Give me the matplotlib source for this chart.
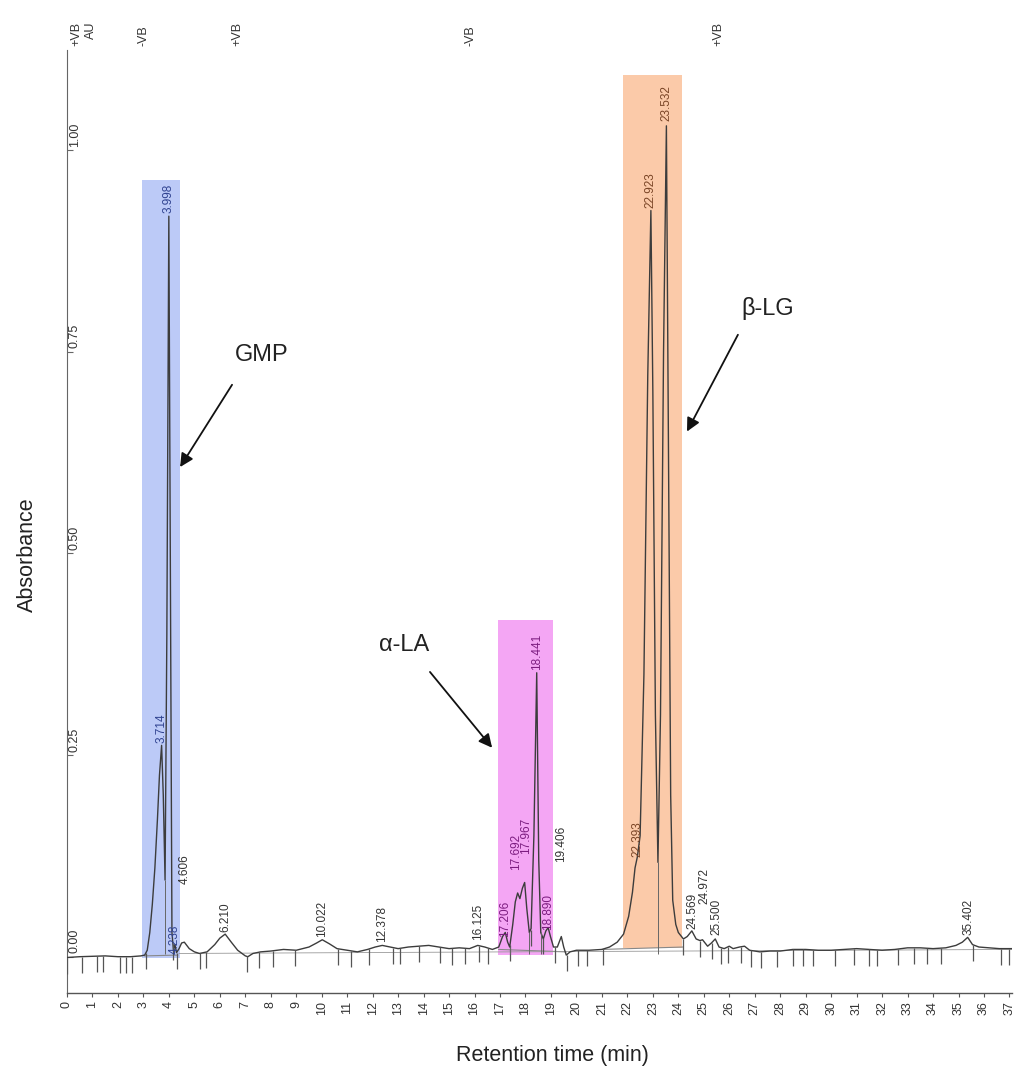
import matplotlib
matplotlib.use('Agg')
import numpy as np
import matplotlib.pyplot as plt
import matplotlib.transforms as mtransforms
from matplotlib.patches import Rectangle

plt.rcParams['font.family'] = ['Liberation Sans', 'DejaVu Sans']

# chromatogram trace (min, AU)
trace_time = [0.0, 0.5, 1.0, 1.5, 2.0, 2.5, 2.9, 3.05, 3.15, 3.25, 3.35, 3.45, 3.55, 3.63,
              3.714, 3.78, 3.85, 3.92, 3.998, 4.06, 4.12, 4.18, 4.238, 4.3, 4.4, 4.5, 4.606,
              4.8, 5.0, 5.2, 5.5, 5.8, 6.0, 6.21, 6.45, 6.7, 7.0, 7.1, 7.3, 7.6, 8.0, 8.5, 9.0,
              9.5, 9.8, 10.022, 10.3, 10.6, 11.0, 11.4, 11.8, 12.1, 12.378, 12.7, 13.0, 13.4,
              13.8, 14.2, 14.6, 15.0, 15.4, 15.8, 16.125, 16.4, 16.7, 16.95, 17.1, 17.206, 17.3,
              17.38, 17.5, 17.6, 17.692, 17.78, 17.88, 17.967, 18.05, 18.15, 18.22, 18.33,
              18.441, 18.52, 18.6, 18.7, 18.8, 18.89, 18.98, 19.1, 19.25, 19.406, 19.5, 19.6,
              19.75, 20.0, 20.5, 21.0, 21.3, 21.6, 21.85, 22.05, 22.2, 22.3, 22.393, 22.5,
              22.65, 22.8, 22.923, 23.0, 23.1, 23.2, 23.3, 23.42, 23.532, 23.62, 23.7, 23.78,
              23.9, 24.0, 24.2, 24.35, 24.53, 24.7, 24.85, 24.95, 25.15, 25.3, 25.45, 25.6,
              25.8, 26.0, 26.15, 26.4, 26.6, 26.8, 27.2, 27.6, 28.0, 28.5, 29.0, 29.5, 30.0,
              30.5, 31.0, 31.5, 32.0, 32.5, 33.0, 33.5, 34.0, 34.5, 34.9, 35.15, 35.36, 35.55,
              35.8, 36.2, 36.6, 37.0, 37.1]
trace_abs = [-0.001, 0.0, 0.0005, 0.001, 0.0, 0.0, 0.001, 0.002, 0.008, 0.03, 0.065, 0.11, 0.17, 0.225,
             0.262, 0.2, 0.095, 0.4, 0.918, 0.45, 0.03, 0.008, 0.015, 0.005, 0.01, 0.017, 0.018,
             0.01, 0.006, 0.004, 0.006, 0.015, 0.023, 0.028, 0.018, 0.008, 0.001, 0.0, 0.004, 0.006, 0.007, 0.009, 0.008,
             0.012, 0.017, 0.021, 0.016, 0.01, 0.008, 0.006, 0.009, 0.012, 0.014, 0.012, 0.01, 0.012,
             0.013, 0.014, 0.012, 0.01, 0.011, 0.01, 0.014, 0.012, 0.009, 0.012, 0.025, 0.03, 0.018,
             0.012, 0.04, 0.068, 0.079, 0.072, 0.085, 0.092, 0.06, 0.03, 0.035, 0.15,
             0.352, 0.12, 0.03, 0.022, 0.032, 0.036, 0.025, 0.012, 0.012, 0.025, 0.012, 0.002,
             0.006, 0.008, 0.008, 0.009, 0.012, 0.018, 0.028, 0.05, 0.08, 0.11, 0.124, 0.15,
             0.35, 0.72, 0.925, 0.7, 0.3, 0.117, 0.3, 0.75, 1.03, 0.6, 0.2, 0.07,
             0.04, 0.03, 0.022, 0.025, 0.032, 0.022, 0.02, 0.021, 0.013, 0.017, 0.022, 0.012,
             0.01, 0.013, 0.01, 0.012, 0.013, 0.008, 0.006, 0.007, 0.007, 0.009, 0.009, 0.008, 0.008,
             0.009, 0.01, 0.009, 0.008, 0.009, 0.011, 0.011, 0.01, 0.011, 0.014, 0.018, 0.024, 0.015,
             0.012, 0.011, 0.01, 0.01, 0.01]

peak_times = [3.714, 3.998, 4.238, 4.606, 6.210, 10.022, 12.378, 16.125, 17.206, 17.692,
              17.967, 18.441, 18.890, 19.406, 22.393, 22.923, 23.532, 24.569, 24.972, 25.500, 35.402]
peak_labels = ['3.714', '3.998', '4.238', '4.606', '6.210', '10.022', '12.378', '16.125', '17.206',
               '17.692', '17.967', '18.441', '18.890', '19.406', '22.393', '22.923', '23.532',
               '24.569', '24.972', '25.500', '35.402']
# where each label sits (x, bottom of text)
label_x = [3.714, 3.998, 4.238, 4.606, 6.210, 10.022, 12.378, 16.125, 17.206, 17.62,
           18.02, 18.441, 18.890, 19.406, 22.393, 22.923, 23.532, 24.569, 25.03, 25.500, 35.402]
label_base = [0.265, 0.922, 0.003, 0.09, 0.031, 0.025, 0.018, 0.021, 0.025, 0.108,
              0.127, 0.355, 0.033, 0.118, 0.124, 0.928, 1.036, 0.034, 0.065, 0.027, 0.027]

# integration events (small ticks under the trace)
event_times = [0.0, 0.58, 1.19, 1.42, 2.08, 2.3, 2.54, 3.1, 4.16, 4.3, 5.22, 5.45, 7.05, 7.54,
               8.1, 8.96, 10.63, 11.14, 11.86, 12.8, 13.07, 13.82, 14.64, 15.1, 15.63, 16.18,
               16.53, 17.39, 18.2, 18.69, 19.16, 19.62, 20.07, 20.4, 21.03, 24.19, 24.85, 25.31,
               25.67, 25.95, 26.45, 26.84, 27.23, 27.86, 28.5, 28.88, 29.29, 30.15, 30.9, 31.49,
               31.79, 32.61, 33.25, 33.75, 34.3, 35.56, 36.67, 37.0]
valley_times = [3.85, 17.38, 18.15, 18.6, 23.2]

top_event_times = [0.35, 3.02, 6.69, 15.85, 25.56]
top_event_labels = ['+VB', '-VB', '+VB', '-VB', '+VB']

box_start = [2.94, 16.92, 21.83]
box_end = [4.44, 19.08, 24.15]
box_bottom = [-0.001, 0.002, 0.011]
box_top = [0.963, 0.418, 1.093]
box_color = ['#bccaf7', '#f4a6f4', '#fbcaa9']
box_text = ['#2f4290', '#7c1d80', '#7a4526']

yticks = [0.0, 0.25, 0.5, 0.75, 1.0]
ytick_labels = ['0.00', '0.25', '0.50', '0.75', '1.00']

fig = plt.figure(figsize=(10.24, 10.88), dpi=100)
ax = fig.add_axes([67 / 1024, 1 - 993 / 1088, (1012 - 67) / 1024, (993 - 50) / 1088])
ax.set_xlim(0, 37.1)
ax.set_ylim(-0.045, 1.124)

for x0, x1, y0, y1, c in zip(box_start, box_end, box_bottom, box_top, box_color):
    ax.add_patch(Rectangle((x0, y0), x1 - x0, y1 - y0, color=c, lw=0, zorder=1))

# integration baselines
ax.plot([3.05, 4.35], [0.001, 0.002], color='#888888', lw=0.8, zorder=2)
ax.plot([16.95, 19.6], [0.009, 0.006], color='#888888', lw=0.8, zorder=2)
ax.plot([21.0, 24.2], [0.009, 0.012], color='#888888', lw=0.8, zorder=2)
ax.plot([4.4, 37.1], [0.004, 0.009], color='#999999', lw=0.6, zorder=2)

ax.plot(trace_time, trace_abs, color='#3c3c3c', lw=1.0, zorder=3)

ev_y = np.interp(event_times, trace_time, trace_abs)
ax.vlines(event_times, ev_y - 0.02, ev_y, color='#555555', lw=0.9, zorder=3)
va_y = np.interp(valley_times, trace_time, trace_abs)
ax.vlines(valley_times, 0.003, va_y, color='#666666', lw=0.7, zorder=3)

def label_color(t):
    for x0, x1, c in zip(box_start, box_end, box_text):
        if x0 <= t <= x1:
            return c
    return '#333333'

for t, lx, lab, yb in zip(peak_times, label_x, peak_labels, label_base):
    ax.text(lx, yb, lab, rotation=90, ha='center', va='bottom', fontsize=8.5,
            color=label_color(t), zorder=4)

trans = mtransforms.blended_transform_factory(ax.transData, ax.transAxes)
for t, lab in zip(top_event_times, top_event_labels):
    ax.text(t, 1.004, lab, rotation=90, ha='center', va='bottom', fontsize=9,
            color='#333333', transform=trans, clip_on=False)
ax.text(0.95, 1.012, 'AU', rotation=90, ha='center', va='bottom', fontsize=9,
        color='#333333', transform=trans, clip_on=False)

# axes styling
for s in ['top', 'right']:
    ax.spines[s].set_visible(False)
ax.spines['left'].set_color('#666666')
ax.spines['bottom'].set_color('#555555')
ax.spines['left'].set_linewidth(0.8)
ax.spines['bottom'].set_linewidth(1.0)

ax.set_xticks(range(0, 38))
ax.set_xticklabels([str(i) for i in range(0, 38)], rotation=90, fontsize=9, color='#333333')
ax.tick_params(axis='x', direction='out', length=3, pad=3, color='#555555')

ax.set_yticks(yticks)
ax.set_yticklabels([])
ax.tick_params(axis='y', direction='in', length=4, color='#666666')
for v, lab in zip(yticks, ytick_labels):
    ax.text(0.3, v + 0.004, lab, rotation=90, ha='center', va='bottom', fontsize=9, color='#333333')

# annotations
arrow = dict(arrowstyle='-|>', color='#111111', lw=1.3, mutation_scale=20, shrinkA=0, shrinkB=0)
ax.text(7.66, 0.746, 'GMP', fontsize=17, ha='center', va='center', color='#222222')
ax.annotate('', xy=(4.44, 0.607), xytext=(6.48, 0.709), arrowprops=arrow)
ax.text(27.52, 0.804, 'β-LG', fontsize=17, ha='center', va='center', color='#222222')
ax.annotate('', xy=(24.34, 0.651), xytext=(26.34, 0.771), arrowprops=arrow)
ax.text(13.23, 0.387, 'α-LA', fontsize=17, ha='center', va='center', color='#222222')
ax.annotate('', xy=(16.69, 0.259), xytext=(14.25, 0.353), arrowprops=arrow)

fig.text(27 / 1024, 1 - 555 / 1088, 'Absorbance', rotation=90, ha='center', va='center',
         fontsize=15.5, color='#222222')
fig.text(552 / 1024, 1 - 1055 / 1088, 'Retention time (min)', ha='center', va='center',
         fontsize=15.5, color='#222222')

fig.savefig('out.png', dpi=100, facecolor='white')
